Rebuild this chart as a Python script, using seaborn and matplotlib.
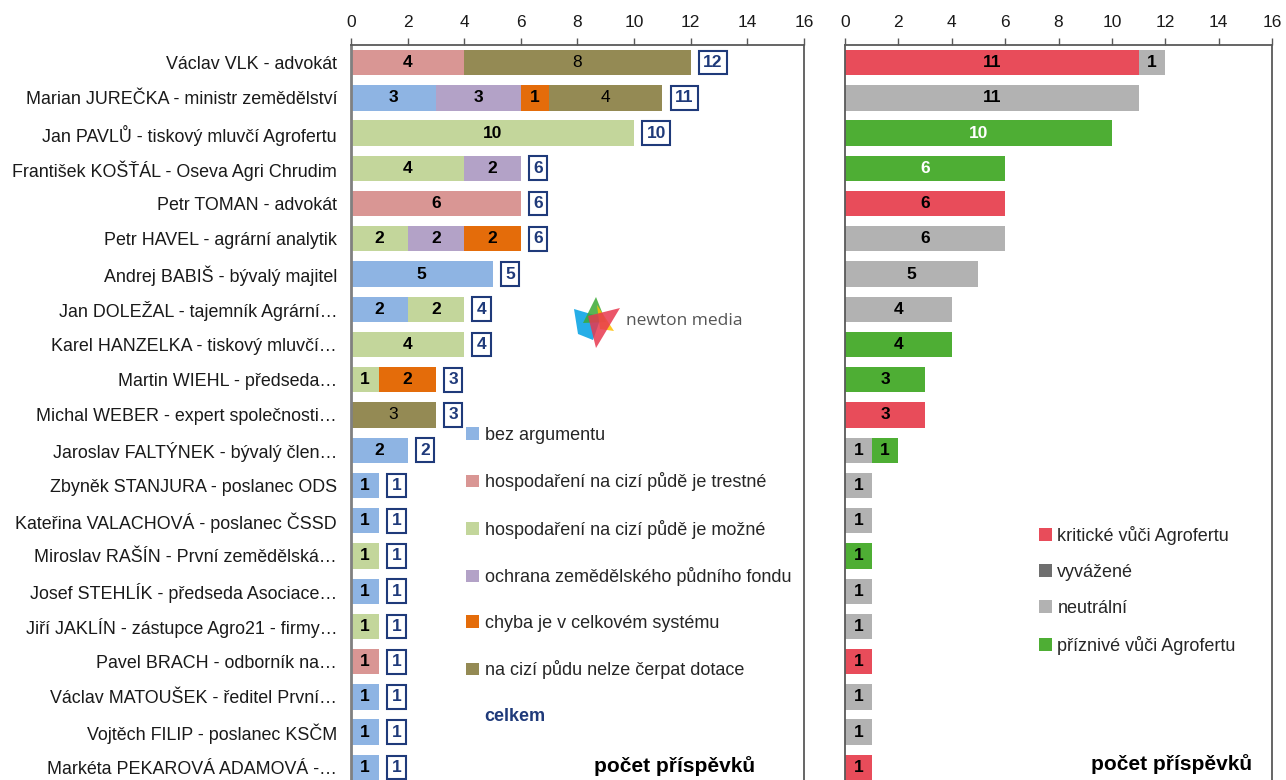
import pandas as pd
import matplotlib.pyplot as plt
import seaborn as sns
from matplotlib.patches import Patch, Polygon

sns.set_style('white')
plt.rcParams['font.family'] = ['Liberation Sans', 'DejaVu Sans']

# ======================
# DATA
# ======================

names = [
    'Václav VLK - advokát',
    'Marian JUREČKA - ministr zemědělství',
    'Jan PAVLŮ - tiskový mluvčí Agrofertu',
    'František KOŠŤÁL - Oseva Agri Chrudim',
    'Petr TOMAN - advokát',
    'Petr HAVEL - agrární analytik',
    'Andrej BABIŠ - bývalý majitel',
    'Jan DOLEŽAL - tajemník Agrární…',
    'Karel HANZELKA - tiskový mluvčí…',
    'Martin WIEHL - předseda…',
    'Michal WEBER - expert společnosti…',
    'Jaroslav FALTÝNEK - bývalý člen…',
    'Zbyněk STANJURA - poslanec ODS',
    'Kateřina VALACHOVÁ - poslanec ČSSD',
    'Miroslav RAŠÍN - První zemědělská…',
    'Josef STEHLÍK - předseda Asociace…',
    'Jiří JAKLÍN - zástupce Agro21 - firmy…',
    'Pavel BRACH - odborník na…',
    'Václav MATOUŠEK - ředitel První…',
    'Vojtěch FILIP - poslanec KSČM',
    'Markéta PEKAROVÁ ADAMOVÁ -…',
]

# argumenty (levy graf)
bez_argumentu = [0, 3, 0, 0, 0, 0, 5, 2, 0, 0, 0, 2, 1, 1, 0, 1, 0, 0, 1, 1, 1]
trestne       = [4, 0, 0, 0, 6, 0, 0, 0, 0, 0, 0, 0, 0, 0, 0, 0, 0, 1, 0, 0, 0]
mozne         = [0, 0, 10, 4, 0, 2, 0, 2, 4, 1, 0, 0, 0, 0, 1, 0, 1, 0, 0, 0, 0]
ochrana       = [0, 3, 0, 2, 0, 2, 0, 0, 0, 0, 0, 0, 0, 0, 0, 0, 0, 0, 0, 0, 0]
chyba         = [0, 1, 0, 0, 0, 2, 0, 0, 0, 2, 0, 0, 0, 0, 0, 0, 0, 0, 0, 0, 0]
nelze_cerpat  = [8, 4, 0, 0, 0, 0, 0, 0, 0, 0, 3, 0, 0, 0, 0, 0, 0, 0, 0, 0, 0]

left_labels = ['bez argumentu', 'hospodaření na cizí půdě je trestné',
               'hospodaření na cizí půdě je možné', 'ochrana zemědělského půdního fondu',
               'chyba je v celkovém systému', 'na cizí půdu nelze čerpat dotace']
left_colors = ['#8EB4E3', '#D99694', '#C3D69B', '#B3A2C7', '#E46C0A', '#948A54']

# vyzneni (pravy graf)
kriticke  = [11, 0, 0, 0, 6, 0, 0, 0, 0, 0, 3, 0, 0, 0, 0, 0, 0, 1, 0, 0, 1]
vyvazene  = [0] * 21
neutralni = [1, 11, 0, 0, 0, 6, 5, 4, 0, 0, 0, 1, 1, 1, 0, 1, 1, 0, 1, 1, 0]
priznive  = [0, 0, 10, 6, 0, 0, 0, 0, 4, 3, 0, 1, 0, 0, 1, 0, 0, 0, 0, 0, 0]

right_labels = ['kritické vůči Agrofertu', 'vyvážené', 'neutrální', 'příznivé vůči Agrofertu']
right_colors = ['#E84C5A', '#6F6F6F', '#B2B2B2', '#4EAE34']

left_df = pd.DataFrame(dict(zip(left_labels, [bez_argumentu, trestne, mozne, ochrana, chyba, nelze_cerpat])), index=names)
right_df = pd.DataFrame(dict(zip(right_labels, [kriticke, vyvazene, neutralni, priznive])), index=names)

# ======================
# FIGURE
# ======================

fig = plt.figure(figsize=(12.86, 7.8), dpi=100)
ax1 = fig.add_axes([0.2729, -0.0064, 0.3523, 0.9487])
ax2 = fig.add_axes([0.6571, -0.0064, 0.3320, 0.9487])


def stacked(ax, df, colors):
    cum = df.cumsum(axis=1)
    # nejdriv nejdelsi, pak kratsi pres ne
    for col, color in reversed(list(zip(df.columns, colors))):
        sns.barplot(x=cum[col].values, y=list(df.index), order=list(df.index), orient='h',
                    color=color, saturation=1, width=0.72, linewidth=0, ax=ax)
    return cum


def style_axes(ax):
    ax.set_xlim(0, 16)
    ax.set_xticks(range(0, 17, 2))
    ax.xaxis.tick_top()
    ax.tick_params(axis='x', direction='out', length=5, width=1, color='#595959',
                   labelsize=12.5, pad=6, labelcolor='#1a1a1a')
    ax.tick_params(axis='y', length=0, pad=10, labelsize=12.9, labelcolor='#1a1a1a')
    ax.set_xlabel('')
    ax.set_ylabel('')
    for s in ax.spines.values():
        s.set_visible(True)
        s.set_color('#595959')
        s.set_linewidth(1.3)


# ---- levy graf ----
cum1 = stacked(ax1, left_df, left_colors)
style_axes(ax1)
ax1.spines['left'].set_color('#808080')
ax1.spines['left'].set_linewidth(2)

for i, name in enumerate(names):
    for col in left_df.columns:
        v = left_df.loc[name, col]
        if v > 0:
            weight = 'normal' if col == left_labels[-1] else 'bold'
            ax1.text(cum1.loc[name, col] - v / 2, i, str(v), ha='center', va='center',
                     fontsize=12.5, fontweight=weight, color='black')
    total = left_df.loc[name].sum()
    ax1.annotate(str(total), xy=(total, i), xytext=(9, 0), textcoords='offset points',
                 ha='left', va='center', fontsize=12.5, fontweight='bold', color='#1F3A7A',
                 bbox=dict(boxstyle='square,pad=0.25', fc='white', ec='#1F3A7A', lw=1.5))

handles = [Patch(facecolor=c, edgecolor='none') for c in left_colors]
handles.append(Patch(facecolor='none', edgecolor='none'))
leg1 = ax1.legend(handles, left_labels + ['celkem'], loc='upper left',
                  bbox_to_anchor=(0.255, 0.484), frameon=False, fontsize=13,
                  handlelength=0.7, handleheight=0.7, handletextpad=0.3,
                  labelspacing=1.58, borderpad=0, borderaxespad=0)
last = leg1.get_texts()[-1]
last.set_color('#1F3A7A')
last.set_fontweight('bold')

ax1.text(0.892, 0.026, 'počet příspěvků', transform=ax1.transAxes, ha='right', va='center',
         fontsize=15, fontweight='bold', color='black')

# ---- pravy graf ----
cum2 = stacked(ax2, right_df, right_colors)
style_axes(ax2)
ax2.set_yticklabels([])

for i, name in enumerate(names):
    for col in right_df.columns:
        v = right_df.loc[name, col]
        if v > 0:
            tc = 'white' if (col == right_labels[-1] and v >= 5) else 'black'
            ax2.text(cum2.loc[name, col] - v / 2, i, str(v), ha='center', va='center',
                     fontsize=12.5, fontweight='bold', color=tc)

handles2 = [Patch(facecolor=c, edgecolor='none') for c in right_colors]
ax2.legend(handles2, right_labels, loc='upper left', bbox_to_anchor=(0.455, 0.35),
           frameon=False, fontsize=13, handlelength=0.7, handleheight=0.7,
           handletextpad=0.3, labelspacing=1.05, borderpad=0, borderaxespad=0)

ax2.text(0.953, 0.028, 'počet příspěvků', transform=ax2.transAxes, ha='right', va='center',
         fontsize=15, fontweight='bold', color='black')

# ======================
# LOGO newton media
# ======================

W, H = 1286, 780


def fpoly(pts, color):
    xy = [(x / W, 1 - y / H) for x, y in pts]
    fig.patches.append(Polygon(xy, closed=True, transform=fig.transFigure,
                               facecolor=color, edgecolor='none', alpha=0.85))


fpoly([(574, 309), (601, 317), (593, 340), (578, 334)], '#00A0E3')
fpoly([(596, 297), (583, 323), (606, 322)], '#3BAA35')
fpoly([(597, 305), (614, 331), (600, 329)], '#FFC000')
fpoly([(620, 308), (596, 348), (588, 316)], '#E8384F')
fig.text(626 / W, 1 - 321 / H, 'newton media', fontsize=12.5, color='#555555',
         family=['Open Sans', 'DejaVu Sans'], ha='left', va='center')

plt.savefig('out.png', dpi=100)
